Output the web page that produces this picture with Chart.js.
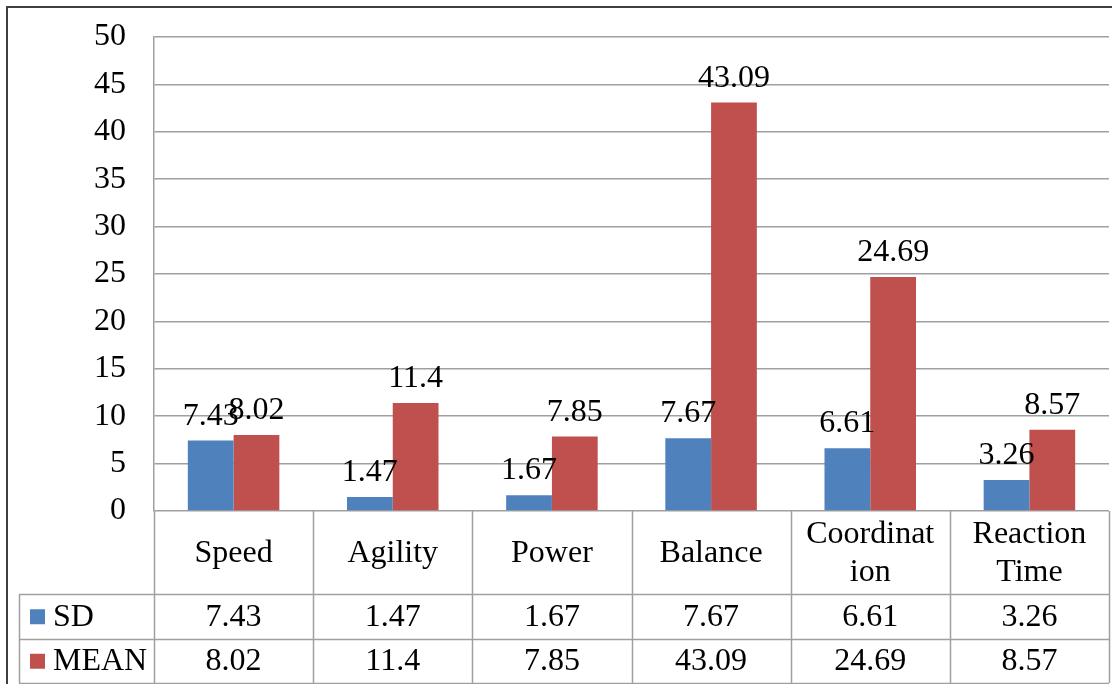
<!DOCTYPE html>
<html lang="en">
<head>
  <meta charset="UTF-8">
  <title>SD and MEAN</title>
  <script src="https://cdn.jsdelivr.net/npm/chart.js"></script>
  <style>
    body { margin: 0; background: #fff; }
    #wrap { width: 1112px; height: 684px; }
  </style>
</head>
<body>
  <div id="wrap"><canvas id="fitnessChart" width="1112" height="684"></canvas></div>
  <script>
    // values
    const categories = ['Speed', 'Agility', 'Power', 'Balance', 'Coordination', 'Reaction Time'];
    const headerLines = [['Speed'], ['Agility'], ['Power'], ['Balance'], ['Coordinat', 'ion'], ['Reaction', 'Time']];
    const sdValues = [7.43, 1.47, 1.67, 7.67, 6.61, 3.26];
    const meanValues = [8.02, 11.4, 7.85, 43.09, 24.69, 8.57];
    const seriesNames = ['SD', 'MEAN'];
    const yMin = 0, yMax = 50, yStep = 5;

    const FAMILY = "'Liberation Serif', 'Times New Roman', serif";
    const FONT = '32px ' + FAMILY;
    const GRID = '#a0a0a0';
    const colors = ['#4f81bd', '#c0504d'];

    // labels over the bars + the data table under the plot
    const tablePlugin = {
      id: 'tablePlugin',
      beforeDraw(chart) {
        const ctx = chart.ctx;
        ctx.save();
        ctx.strokeStyle = '#404040';
        ctx.lineWidth = 2;
        ctx.beginPath();
        ctx.moveTo(7, 700);
        ctx.lineTo(7, 7);
        ctx.lineTo(1120, 7);
        ctx.stroke();
        ctx.restore();
      },
      afterDatasetsDraw(chart) {
        const ctx = chart.ctx;
        ctx.save();
        ctx.font = FONT;
        ctx.fillStyle = '#000';
        ctx.textAlign = 'center';
        ctx.textBaseline = 'alphabetic';
        chart.data.datasets.forEach((ds, di) => {
          chart.getDatasetMeta(di).data.forEach((bar, i) => {
            ctx.fillText(String(ds.data[i]), bar.x, bar.y - 16);
          });
        });
        ctx.restore();
      },
      afterDraw(chart) {
        const ctx = chart.ctx;
        const area = chart.chartArea;
        const n = categories.length;
        const colW = (area.right - area.left) / n;
        const top = area.bottom;
        const headH = 83, rowH = 44.5;
        const rowsTop = top + headH;
        const bottom = rowsTop + rowH * 2;
        const legLeft = 19;

        ctx.save();
        ctx.strokeStyle = GRID;
        ctx.lineWidth = 1.5;
        ctx.beginPath();
        for (let i = 0; i <= n; i++) {
          const x = Math.round(area.left + i * colW) + 0.5;
          ctx.moveTo(x, top);
          ctx.lineTo(x, bottom);
        }
        for (let r = 0; r <= 2; r++) {
          const y = Math.round(rowsTop + r * rowH) + 0.5;
          ctx.moveTo(legLeft, y);
          ctx.lineTo(area.right, y);
        }
        ctx.moveTo(legLeft + 0.5, rowsTop);
        ctx.lineTo(legLeft + 0.5, bottom);
        ctx.stroke();

        ctx.font = FONT;
        ctx.fillStyle = '#000';
        ctx.textAlign = 'center';
        ctx.textBaseline = 'middle';
        headerLines.forEach((lines, i) => {
          const cx = area.left + (i + 0.5) * colW;
          const cy = top + headH / 2 + 1;
          const lh = 38;
          lines.forEach((t, k) => {
            ctx.fillText(t, cx, cy + (k - (lines.length - 1) / 2) * lh);
          });
        });

        chart.data.datasets.forEach((ds, di) => {
          const cy = rowsTop + (di + 0.5) * rowH + 1;
          ctx.fillStyle = ds.backgroundColor;
          ctx.fillRect(legLeft + 11, cy - 8, 15, 15);
          ctx.fillStyle = '#000';
          ctx.textAlign = 'left';
          ctx.fillText(ds.label, legLeft + 34, cy);
          ctx.textAlign = 'center';
          ds.data.forEach((v, i) => {
            ctx.fillText(String(v), area.left + (i + 0.5) * colW, cy);
          });
        });
        ctx.restore();
      }
    };

    const ctx = document.getElementById('fitnessChart').getContext('2d');
    new Chart(ctx, {
      type: 'bar',
      data: {
        labels: categories,
        datasets: [
          { label: seriesNames[0], data: sdValues, backgroundColor: colors[0] },
          { label: seriesNames[1], data: meanValues, backgroundColor: colors[1] }
        ]
      },
      options: {
        responsive: false,
        animation: false,
        devicePixelRatio: 1,
        layout: { padding: { top: 37, right: 3, bottom: 173, left: 0 } },
        datasets: { bar: { categoryPercentage: 0.575, barPercentage: 1 } },
        plugins: { legend: { display: false }, tooltip: { enabled: false } },
        scales: {
          x: { display: false },
          y: {
            min: yMin,
            max: yMax,
            afterFit(scale) { scale.width = 154; },
            ticks: {
              stepSize: yStep,
              padding: 0,
              color: '#000',
              font: { family: FAMILY, size: 32 }
            },
            grid: { color: GRID, lineWidth: 1.5, drawTicks: true, tickLength: 28, tickColor: 'rgba(0,0,0,0)' },
            border: { color: GRID, width: 1.5 }
          }
        }
      },
      plugins: [tablePlugin]
    });
  </script>
</body>
</html>
